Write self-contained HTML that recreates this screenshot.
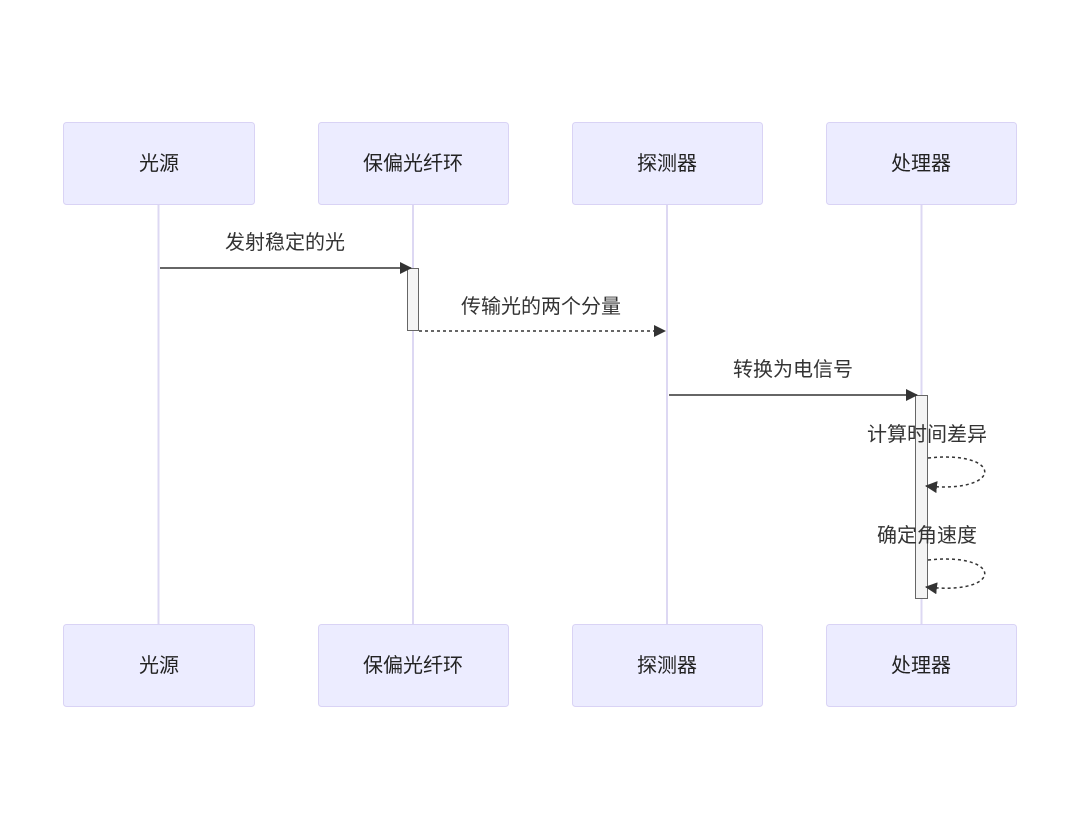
<!DOCTYPE html>
<html><head><meta charset="utf-8"><style>body{margin:0;background:#fff}svg{display:block}text{font-family:"Liberation Sans","Noto Sans CJK SC",sans-serif;}</style></head><body>
<svg width="1087" height="830" viewBox="0 0 1087 830" xmlns="http://www.w3.org/2000/svg">
<defs><marker id="a" viewBox="0 0 12 12" refX="11" refY="6" markerWidth="12" markerHeight="12" markerUnits="userSpaceOnUse" orient="auto"><path d="M0,0 L12,6 L0,12 z" fill="#333"/></marker></defs>
<g stroke="#ddd8f3" stroke-width="2"><line x1="158.5" y1="204" x2="158.5" y2="624"/><line x1="413" y1="204" x2="413" y2="624"/><line x1="667" y1="204" x2="667" y2="624"/><line x1="921.5" y1="204" x2="921.5" y2="624"/></g>
<g fill="#ececff" stroke="#d9d3f5" stroke-width="1">
<rect x="63.5" y="122.5" width="191" height="82" rx="3"/><rect x="318.5" y="122.5" width="190" height="82" rx="3"/><rect x="572.5" y="122.5" width="190" height="82" rx="3"/><rect x="826.5" y="122.5" width="190" height="82" rx="3"/>
<rect x="63.5" y="624.5" width="191" height="82" rx="3"/><rect x="318.5" y="624.5" width="190" height="82" rx="3"/><rect x="572.5" y="624.5" width="190" height="82" rx="3"/><rect x="826.5" y="624.5" width="190" height="82" rx="3"/>
</g>
<g font-size="20" fill="#222" text-anchor="middle">
<text x="159" y="170">光源</text><text x="413" y="170">保偏光纤环</text><text x="667" y="170">探测器</text><text x="921" y="170">处理器</text>
<text x="159" y="672">光源</text><text x="413" y="672">保偏光纤环</text><text x="667" y="672">探测器</text><text x="921" y="672">处理器</text>
</g>
<g fill="#f4f4f4" stroke="#666"><rect x="407.5" y="268.5" width="11" height="62"/><rect x="915.5" y="395.5" width="12" height="203"/></g>
<g stroke="#333" stroke-width="1.5" fill="none">
<line x1="160" y1="268" x2="411" y2="268" marker-end="url(#a)"/>
<line x1="419" y1="331" x2="665" y2="331" stroke-dasharray="3,3" marker-end="url(#a)"/>
<line x1="669" y1="395" x2="917" y2="395" marker-end="url(#a)"/>
<path d="M928,458 C1004,450 1004,494 926,486" stroke-dasharray="3,3" marker-end="url(#a)"/>
<path d="M928,560 C1004,552 1004,596 926,587" stroke-dasharray="3,3" marker-end="url(#a)"/>
</g>
<g font-size="20" fill="#333" text-anchor="middle">
<text x="285" y="249">发射稳定的光</text><text x="541" y="313">传输光的两个分量</text><text x="793" y="376">转换为电信号</text>
<text x="927" y="441">计算时间差异</text><text x="927" y="542">确定角速度</text>
</g>
</svg></body></html>
